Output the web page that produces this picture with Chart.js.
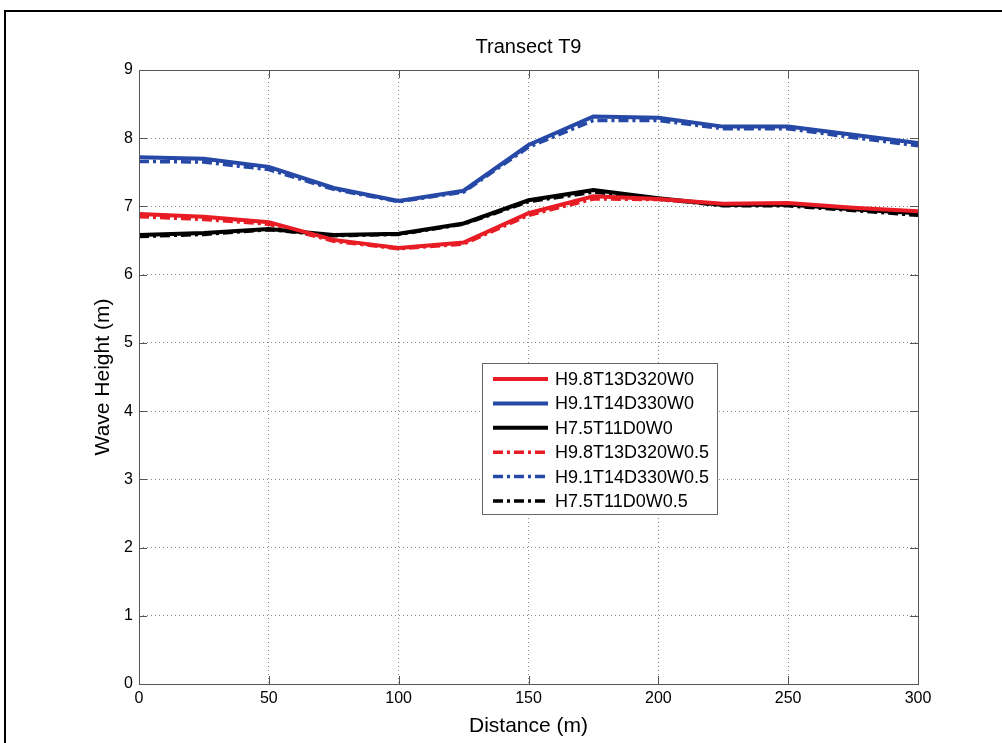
<!DOCTYPE html>
<html>
<head>
<meta charset="utf-8">
<script src="https://cdn.jsdelivr.net/npm/chart.js@4"></script>
<style>
  html, body { margin: 0; padding: 0; background: #fff; }
  #wrap { width: 1002px; height: 743px; }
</style>
</head>
<body>
<div id="wrap"><canvas id="waveChart" width="1002" height="743"></canvas></div>
<script>
// Transect T9 - wave height along distance
const distance = [0, 25, 50, 75, 100, 125, 150, 175, 200, 225, 250, 275, 300];

const redW0     = [6.89, 6.85, 6.77, 6.51, 6.39, 6.47, 6.90, 7.15, 7.11, 7.04, 7.05, 6.98, 6.93];
const blueW0    = [7.72, 7.70, 7.58, 7.27, 7.08, 7.23, 7.90, 8.32, 8.30, 8.17, 8.17, 8.05, 7.93];
const blackW0   = [6.58, 6.61, 6.67, 6.58, 6.60, 6.75, 7.09, 7.24, 7.12, 7.02, 7.03, 6.96, 6.90];
const redW05    = [6.85, 6.81, 6.74, 6.49, 6.38, 6.45, 6.87, 7.11, 7.10, 7.03, 7.03, 6.96, 6.91];
const blueW05   = [7.66, 7.65, 7.54, 7.25, 7.07, 7.21, 7.87, 8.26, 8.26, 8.14, 8.14, 8.01, 7.89];
const blackW05  = [6.56, 6.59, 6.66, 6.57, 6.59, 6.74, 7.07, 7.21, 7.11, 7.01, 7.01, 6.94, 6.87];

const seriesNames = [
    'H9.8T13D320W0', 'H9.1T14D330W0', 'H7.5T11D0W0',
    'H9.8T13D320W0.5', 'H9.1T14D330W0.5', 'H7.5T11D0W0.5'
];
const xTicks = [0, 50, 100, 150, 200, 250, 300];
const yTicks = [0, 1, 2, 3, 4, 5, 6, 7, 8, 9];

const RED = 'rgb(232, 28, 36)';
const BLUE = 'rgb(38, 72, 166)';
const BLACK = '#000';
const DASHDOT = [10, 4, 3, 4];
const FONT = '"Liberation Sans", Arial, sans-serif';

function toPoints(ys) {
    return distance.map((d, i) => ({ x: d, y: ys[i] }));
}

function makeSet(label, ys, color, dashed) {
    return {
        label: label,
        data: toPoints(ys),
        borderColor: color,
        backgroundColor: color,
        borderWidth: dashed ? 3.5 : 4,
        borderDash: dashed ? DASHDOT : [],
        pointRadius: 0,
        tension: 0,
        fill: false
    };
}

// MATLAB-ish frame: box, inward ticks, title, figure border, legend
const matlabFrame = {
    id: 'matlabFrame',
    afterDraw(chart) {
        const ctx = chart.ctx;
        const a = chart.chartArea;
        const xs = chart.scales.x;
        const ys = chart.scales.y;
        ctx.save();

        // axes box
        ctx.strokeStyle = '#555';
        ctx.lineWidth = 1;
        ctx.strokeRect(a.left + 0.5, a.top + 0.5, a.right - a.left, a.bottom - a.top);

        // inward ticks
        ctx.beginPath();
        xTicks.forEach(v => {
            const px = Math.round(xs.getPixelForValue(v)) + 0.5;
            ctx.moveTo(px, a.bottom); ctx.lineTo(px, a.bottom - 8);
            ctx.moveTo(px, a.top); ctx.lineTo(px, a.top + 8);
        });
        yTicks.forEach(v => {
            const py = Math.round(ys.getPixelForValue(v)) + 0.5;
            ctx.moveTo(a.left, py); ctx.lineTo(a.left + 8, py);
            ctx.moveTo(a.right, py); ctx.lineTo(a.right - 8, py);
        });
        ctx.stroke();

        // title
        ctx.fillStyle = '#000';
        ctx.font = '20px ' + FONT;
        ctx.textAlign = 'center';
        ctx.textBaseline = 'middle';
        ctx.fillText('Transect T9', (a.left + a.right) / 2, 47);

        // figure border
        ctx.strokeStyle = '#000';
        ctx.lineWidth = 2;
        ctx.beginPath();
        ctx.moveTo(5, 743); ctx.lineTo(5, 11); ctx.lineTo(1002, 11);
        ctx.stroke();

        // legend
        const lx = 482, ly = 363, lw = 235, lh = 151;
        ctx.fillStyle = '#fff';
        ctx.fillRect(lx, ly, lw, lh);
        ctx.strokeStyle = '#666';
        ctx.lineWidth = 1;
        ctx.strokeRect(lx + 0.5, ly + 0.5, lw, lh);
        ctx.font = '18px ' + FONT;
        ctx.textAlign = 'left';
        chart.data.datasets.forEach((ds, i) => {
            const y = ly + 16 + i * 24.4;
            ctx.strokeStyle = ds.borderColor;
            ctx.lineWidth = ds.borderWidth;
            ctx.setLineDash(ds.borderDash);
            ctx.beginPath();
            ctx.moveTo(lx + 11, y); ctx.lineTo(lx + 66, y);
            ctx.stroke();
            ctx.setLineDash([]);
            ctx.fillStyle = '#000';
            ctx.fillText(ds.label, lx + 73, y + 1);
        });
        ctx.restore();
    }
};

new Chart(document.getElementById('waveChart'), {
    type: 'line',
    data: {
        datasets: [
            makeSet(seriesNames[0], redW0, RED, false),
            makeSet(seriesNames[1], blueW0, BLUE, false),
            makeSet(seriesNames[2], blackW0, BLACK, false),
            makeSet(seriesNames[3], redW05, RED, true),
            makeSet(seriesNames[4], blueW05, BLUE, true),
            makeSet(seriesNames[5], blackW05, BLACK, true)
        ]
    },
    options: {
        responsive: false,
        animation: false,
        devicePixelRatio: 1,
        layout: { padding: { top: 70, right: 84, left: 91, bottom: 0 } },
        plugins: {
            legend: { display: false },
            title: { display: false },
            tooltip: { enabled: false }
        },
        scales: {
            x: {
                type: 'linear',
                min: 0,
                max: 300,
                afterBuildTicks: s => { s.ticks = xTicks.map(v => ({ value: v })); },
                afterFit: s => { s.height = 59; },
                grid: {
                    color: '#888',
                    lineWidth: 1,
                    drawTicks: false
                },
                border: { display: false, dash: [1, 3] },
                ticks: {
                    color: '#000',
                    padding: 5,
                    maxRotation: 0,
                    font: { family: FONT, size: 16 }
                },
                title: {
                    display: true,
                    text: 'Distance (m)',
                    color: '#000',
                    padding: { top: 0, bottom: 4 },
                    font: { family: FONT, size: 21 }
                }
            },
            y: {
                type: 'linear',
                min: 0,
                max: 9,
                afterBuildTicks: s => { s.ticks = yTicks.map(v => ({ value: v })); },
                afterFit: s => { s.width = 48; },
                grid: {
                    color: '#888',
                    lineWidth: 1,
                    drawTicks: false
                },
                border: { display: false, dash: [1, 3] },
                ticks: {
                    color: '#000',
                    padding: 6,
                    font: { family: FONT, size: 16 }
                },
                title: {
                    display: true,
                    text: 'Wave Height (m)',
                    color: '#000',
                    padding: { top: 0, bottom: 0 },
                    font: { family: FONT, size: 21 }
                }
            }
        }
    },
    plugins: [matlabFrame]
});
</script>
</body>
</html>
